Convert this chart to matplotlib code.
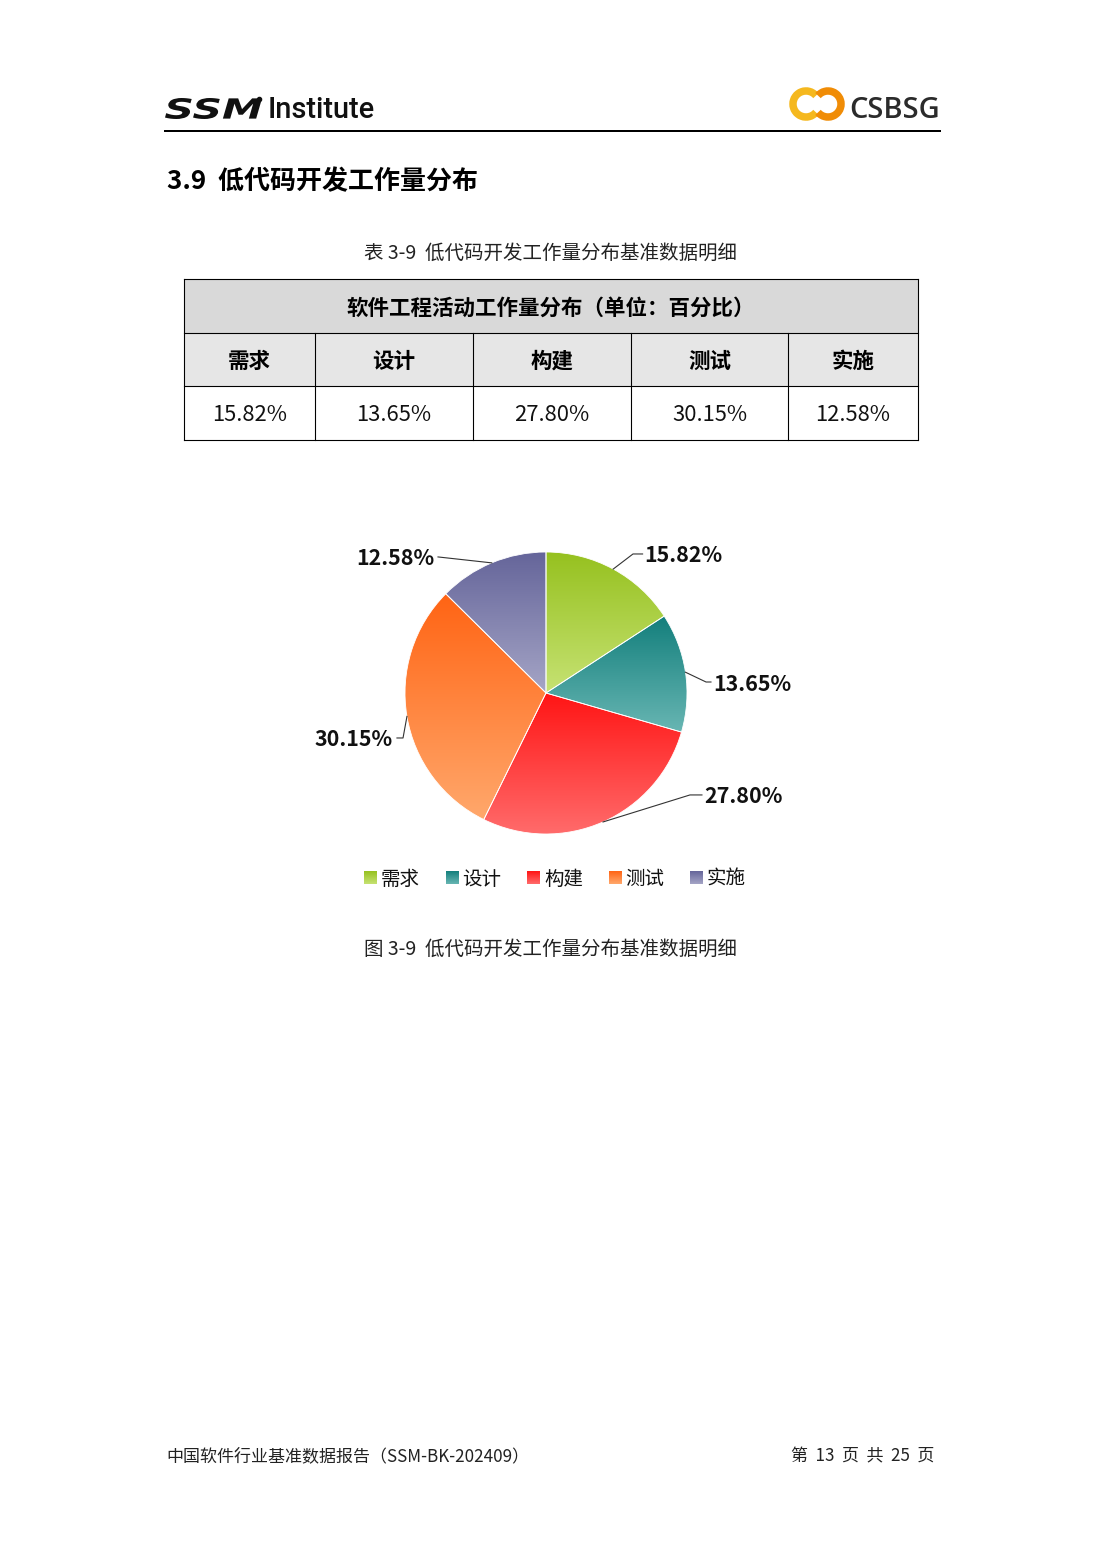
import numpy as np
import matplotlib
matplotlib.use("Agg")
import matplotlib.pyplot as plt
from matplotlib.colors import to_rgb
from matplotlib.patches import Rectangle, Arc, PathPatch
from matplotlib.textpath import TextPath
from matplotlib.font_manager import FontProperties
from matplotlib.transforms import Affine2D

plt.rcParams['font.family'] = ['Noto Sans CJK SC', 'DejaVu Sans']

# --- data -------------------------------------------------------------------
categories = ["需求", "设计", "构建", "测试", "实施"]
shares = [15.82, 13.65, 27.80, 30.15, 12.58]
value_labels = ["15.82%", "13.65%", "27.80%", "30.15%", "12.58%"]
table_title = "软件工程活动工作量分布（单位：百分比）"

# --- styles -----------------------------------------------------------------
GRAD = [("#96C11F", "#C6E273"),
        ("#137F7C", "#68B6B3"),
        ("#FF1414", "#FF6B6B"),
        ("#FF6414", "#FFA86C"),
        ("#65659A", "#A5A5C6")]
W, H = 1102, 1559
PX = 0.72   # px -> pt at dpi 100
DY = 2      # CJK font sits a little high with va="center"

# leader layout per slice: elbow, line end, text x, ha (pie data units, r=1)
LEADERS = [((0.617, 0.986), (0.685, 0.986), 0.700, "left"),
           ((1.135, 0.078), (1.170, 0.078), 1.184, "left"),
           ((1.021, -0.723), (1.106, -0.723), 1.120, "left"),
           ((-1.014, -0.319), (-1.057, -0.319), -1.085, "right"),
           ((-0.766, 0.965), (-0.766, 0.965), -0.794, "right")]


def gradient(top, bottom, n=256):
    t = np.linspace(0, 1, n)[:, None]
    a, b = np.array(to_rgb(top)), np.array(to_rgb(bottom))
    return (a + (b - a) * t)[:, None, :]


fig = plt.figure(figsize=(W / 100, H / 100), dpi=100)
fig.patch.set_facecolor("white")

# page axes in pixel coordinates
pg = fig.add_axes([0, 0, 1, 1])
pg.set_xlim(0, W)
pg.set_ylim(H, 0)
pg.axis("off")

# --- header -------------------------------------------------------------------
logo = TextPath((0, 0), "SSM", size=10,
                prop=FontProperties(family="DejaVu Sans", weight="heavy",
                                    style="italic"))
ext = logo.get_extents()
sx = 97 / ext.width
sy = 21 / ext.height
tr = Affine2D().translate(-ext.x0, -ext.y0).scale(sx, -sy).translate(165, 119)
pg.add_patch(PathPatch(tr.transform_path(logo), fc="#111111", ec="none"))
pg.plot([259], [99], marker="o", ms=3, color="#111111")
pg.text(268, 108 + DY, "Institute", fontsize=29 * PX, family="Roboto",
        fontweight="medium", va="center", ha="left", color="#111111")
pg.add_patch(Arc((806, 104), 26, 26, theta1=40, theta2=320,
                 lw=7.5 * PX, color="#F5B81E"))
pg.add_patch(Arc((828, 104), 26, 26, theta1=-140, theta2=140,
                 lw=7.5 * PX, color="#F08C06"))
pg.text(849, 110, "CSBSG", fontsize=29 * PX, family="Open Sans",
        fontweight="semibold", va="center", ha="left", color="#2B2B2B")
pg.plot([165, 940], [131, 131], color="black", lw=2 * PX)

# --- section title ------------------------------------------------------------
pg.text(167, 180 + DY, "3.9  低代码开发工作量分布", fontsize=26 * PX,
        fontweight="bold", va="center", ha="left", color="black")

# --- table ----------------------------------------------------------------------
pg.text(550, 251 + DY, "表 3-9  低代码开发工作量分布基准数据明细",
        fontsize=19.5 * PX, va="center", ha="center", color="#222222")
col_x = [184, 315, 473, 631, 788, 918]
row_y = [279, 333, 386, 440]
pg.add_patch(Rectangle((col_x[0], row_y[0]), col_x[-1] - col_x[0],
                       row_y[1] - row_y[0], fc="#D9D9D9", ec="none"))
pg.add_patch(Rectangle((col_x[0], row_y[1]), col_x[-1] - col_x[0],
                       row_y[2] - row_y[1], fc="#E6E6E6", ec="none"))
pg.text((col_x[0] + col_x[-1]) / 2, (row_y[0] + row_y[1]) / 2 + DY, table_title,
        fontsize=21.5 * PX, fontweight="bold", va="center", ha="center")
for i, (cat, lab) in enumerate(zip(categories, value_labels)):
    cx = (col_x[i] + col_x[i + 1]) / 2
    pg.text(cx, (row_y[1] + row_y[2]) / 2 + DY, cat, fontsize=21.5 * PX,
            fontweight="bold", va="center", ha="center")
    pg.text(cx, (row_y[2] + row_y[3]) / 2 + DY, lab, fontsize=22 * PX,
            va="center", ha="center", color="#111111")
lw_t = 1.1 * PX
for y in row_y:
    pg.plot([col_x[0], col_x[-1]], [y, y], color="black", lw=lw_t)
pg.plot([col_x[0]] * 2, [row_y[0], row_y[-1]], color="black", lw=lw_t)
pg.plot([col_x[-1]] * 2, [row_y[0], row_y[-1]], color="black", lw=lw_t)
for x in col_x[1:-1]:
    pg.plot([x, x], [row_y[1], row_y[-1]], color="black", lw=lw_t)

# --- pie ------------------------------------------------------------------------
CX, CY, R = 546, 693, 141
box = (296, 526, 806, 856)  # left, top, right, bottom in px
ax = fig.add_axes([box[0] / W, 1 - box[3] / H, (box[2] - box[0]) / W,
                   (box[3] - box[1]) / H])
xlim = ((box[0] - CX) / R, (box[2] - CX) / R)
ylim = ((CY - box[3]) / R, (CY - box[1]) / R)
dy = DY / R

wedges, _ = ax.pie(shares, startangle=90, counterclock=False, radius=1,
                   wedgeprops=dict(linewidth=0.6, edgecolor="white"))
for w, (top, bot), (elbow, end, tx, ha), lab in zip(wedges, GRAD, LEADERS,
                                                     value_labels):
    ext = w.get_path().get_extents()
    im = ax.imshow(gradient(top, bot), extent=(ext.x0, ext.x1, ext.y0, ext.y1),
                   origin="upper", aspect="auto", zorder=1)
    im.set_clip_path(w)
    w.set_facecolor("none")
    w.set_zorder(2)
    mid = np.deg2rad((w.theta1 + w.theta2) / 2)
    anchor = (np.cos(mid), np.sin(mid))
    ax.plot([anchor[0], elbow[0], end[0]], [anchor[1], elbow[1], end[1]],
            color="#333333", lw=0.8, zorder=3, clip_on=False)
    ax.text(tx, elbow[1] - dy, lab, fontsize=21.5 * PX, fontweight="bold",
            va="center", ha=ha, color="#111111")
ax.set_xlim(*xlim)
ax.set_ylim(*ylim)
ax.axis("off")

# --- legend ---------------------------------------------------------------------
leg_x0, leg_step, leg_y = 364, 81.5, 877
for i, (cat, (top, bot)) in enumerate(zip(categories, GRAD)):
    x = leg_x0 + i * leg_step
    pg.imshow(gradient(top, bot), extent=(x, x + 13, leg_y + 7, leg_y - 6),
              aspect="auto", zorder=2)
    pg.text(x + 17, leg_y + DY, cat, fontsize=19.5 * PX, va="center", ha="left",
            color="#111111")
pg.set_xlim(0, W)
pg.set_ylim(H, 0)

pg.text(550, 947 + DY, "图 3-9  低代码开发工作量分布基准数据明细",
        fontsize=19.5 * PX, va="center", ha="center", color="#222222")

# --- footer ---------------------------------------------------------------------
pg.text(166, 1454 + DY, "中国软件行业基准数据报告（SSM-BK-202409）",
        fontsize=17 * PX, va="center", ha="left", color="#222222")
pg.text(934, 1454 + DY, "第  13  页  共  25  页", fontsize=17 * PX,
        va="center", ha="right", color="#222222")

fig.savefig("out.png", dpi=100)
